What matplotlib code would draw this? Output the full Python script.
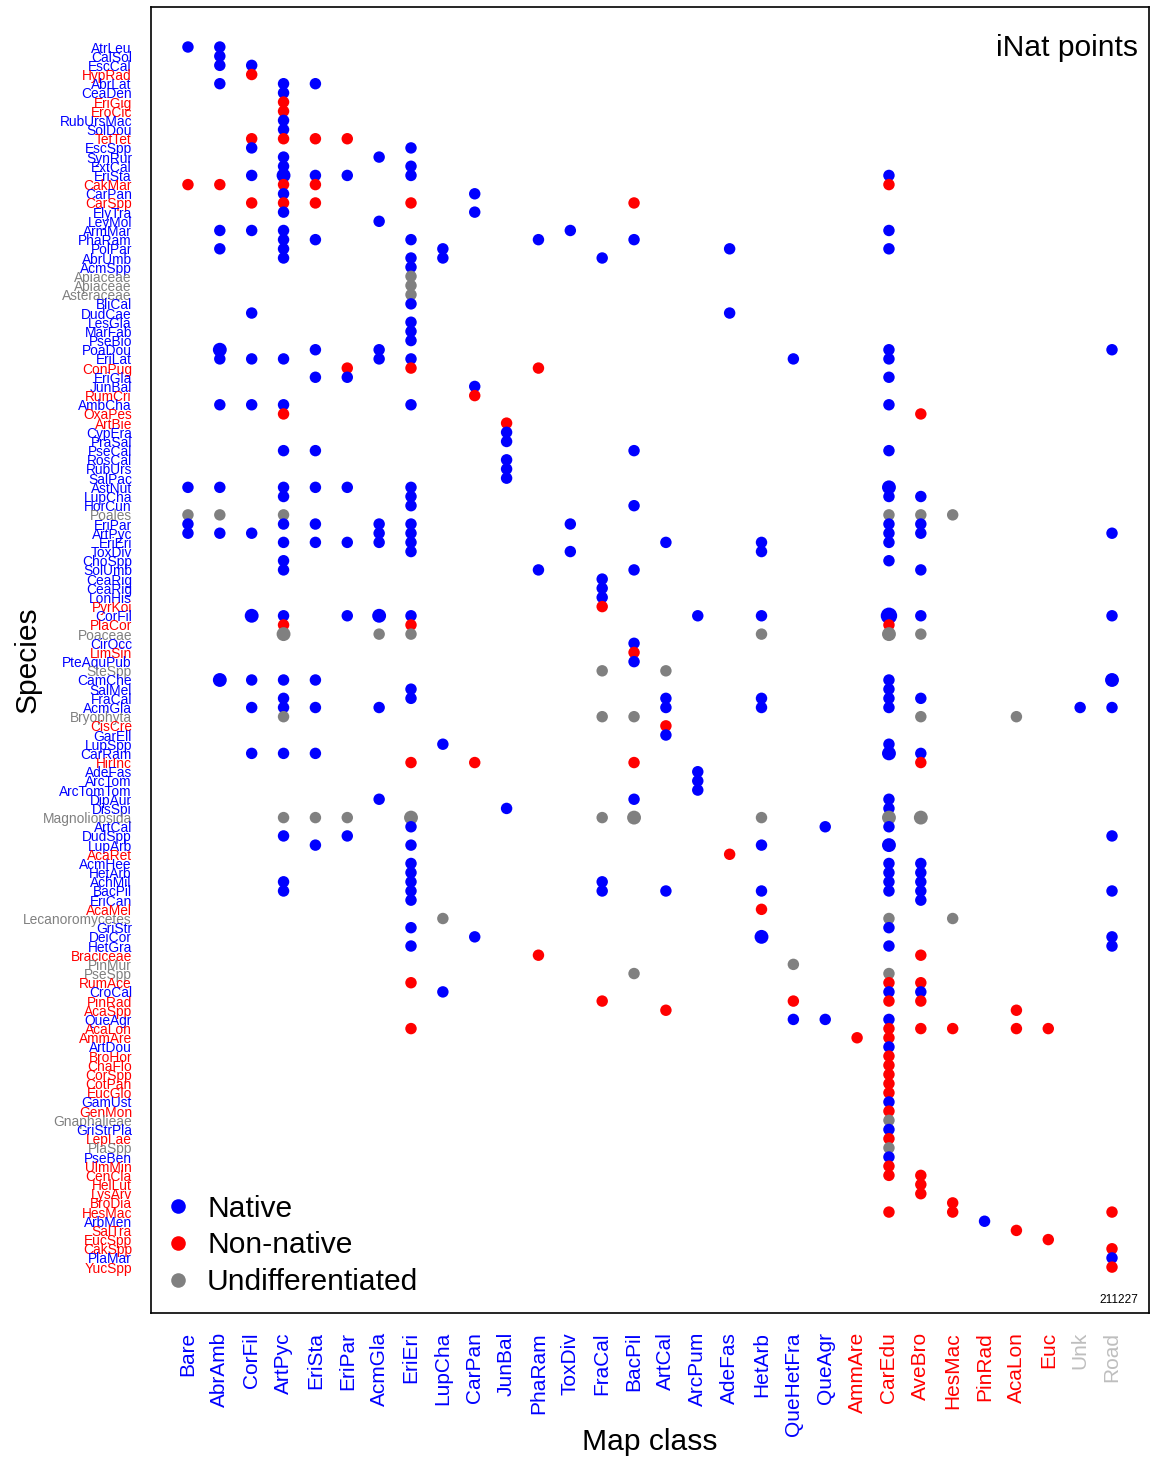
import numpy as np
import matplotlib.pyplot as plt
from matplotlib.lines import Line2D

plt.rcParams['font.family'] = ['Liberation Sans', 'DejaVu Sans']

# species on the y axis, top to bottom; N native, X non-native, U undifferentiated
species = ["AtrLeu", "CalSol", "EscCal", "HypRad", "AbrLat", "CeaDen", "EriGig", "EroCic",
           "RubUrsMac", "SolDou", "TetTet", "EscSpp", "SynRur", "ExtCal", "EriSta", "CakMar",
           "CarPan", "CarSpp", "ElyTra", "LeyMol", "ArmMar", "PhaRam", "PolPar", "AbrUmb",
           "AcmSpp", "Apiaceae", "Apiaceae_2", "Asteraceae", "BliCal", "DudCae", "LesGla",
           "MarFab", "PseBio", "PoaDou", "EriLat", "ConPug", "EriGla", "JunBal", "RumCri",
           "AmbCha", "OxaPes", "ArtBie", "CypEra", "PraSal", "PseCal", "RosCal", "RubUrs",
           "SalPac", "AstNut", "LupCha", "HorCun", "Poales", "EriPar", "ArtPyc", "EriEri",
           "ToxDiv", "ChoSpp", "SolUmb", "CeaRig", "CeaRig_2", "LonHis", "PyrKoi", "CorFil",
           "PlaCor", "Poaceae", "CirOcc", "LimSin", "PteAquPub", "SteSpp", "CamChe", "SalMel",
           "FraCal", "AcmGla", "Bryophyta", "CisCre", "GarEll", "LupSpp", "CarRam", "HirInc",
           "AdeFas", "ArcTom", "ArcTomTom", "DipAur", "DisSpi", "Magnoliopsida", "ArtCal",
           "DudSpp", "LupArb", "AcaRet", "AcmHee", "HetArb", "AchMil", "BacPil", "EriCan",
           "AcaMel", "Lecanoromycetes", "GriStr", "DeiCor", "HetGra", "Braciceae", "PinMur",
           "PseSpp", "RumAce", "CroCal", "PinRad", "AcaSpp", "QueAgr", "AcaLon", "AmmAre",
           "ArtDou", "BroHor", "ChaFlo", "CorSpp", "CotPan", "EucGlo", "GamUst", "GenMon",
           "Gnaphalieae", "GriStrPla", "LepLae", "PlaSpp", "PseBen", "UlmMin", "CenCla",
           "HelLut", "LysArv", "BroDia", "HesMac", "ArbMen", "SalTra", "EucSpp", "CakSpp",
           "PlaMar", "YucSpp"]
status = list("NNNXNNXXNNXNNNNXNXNNNNNNNUUUNNNNNNNXNNXNXXNNNNNNNNNUNNNNNNNNNXNXUNXNUNNNNUXNNNXNNNNNUNNNXNNNNNXUNNNXUUXNXXNXXNXXXXXNXUNXUNXXXXXXNXXXNX")

map_class = ["Bare", "AbrAmb", "CorFil", "ArtPyc", "EriSta", "EriPar", "AcmGla", "EriEri",
             "LupCha", "CarPan", "JunBal", "PhaRam", "ToxDiv", "FraCal", "BacPil", "ArtCal",
             "ArcPum", "AdeFas", "HetArb", "QueHetFra", "QueAgr", "AmmAre", "CarEdu", "AveBro",
             "HesMac", "PinRad", "AcaLon", "Euc", "Unk", "Road"]
class_status = list("NNNNNNNNNNNNNNNNNNNNNXXXXXXXUU")

points = {
    "Bare": ["AtrLeu", "CakMar", "AstNut", "Poales", "EriPar", "ArtPyc"],
    "AbrAmb": ["AtrLeu", "CalSol", "EscCal", "AbrLat", "CakMar", "ArmMar", "PolPar", "PoaDou",
               "EriLat", "AmbCha", "AstNut", "Poales", "ArtPyc", "CamChe"],
    "CorFil": ["EscCal", "HypRad", "TetTet", "EscSpp", "EriSta", "CarSpp", "ArmMar", "DudCae",
               "EriLat", "AmbCha", "ArtPyc", "CorFil", "CamChe", "AcmGla", "CarRam"],
    "ArtPyc": ["AbrLat", "CeaDen", "EriGig", "EroCic", "RubUrsMac", "SolDou", "TetTet", "SynRur",
               "ExtCal", "EriSta", "CakMar", "CarPan", "CarSpp", "ElyTra", "ArmMar", "PhaRam",
               "PolPar", "AbrUmb", "EriLat", "AmbCha", "OxaPes", "PseCal", "AstNut", "LupCha",
               "Poales", "EriPar", "EriEri", "ChoSpp", "SolUmb", "CorFil", "PlaCor", "Poaceae",
               "CamChe", "FraCal", "AcmGla", "Bryophyta", "CarRam", "Magnoliopsida", "DudSpp",
               "AchMil", "BacPil"],
    "EriSta": ["AbrLat", "TetTet", "EriSta", "CakMar", "CarSpp", "PhaRam", "PoaDou", "EriGla",
               "PseCal", "AstNut", "EriPar", "EriEri", "CamChe", "AcmGla", "CarRam",
               "Magnoliopsida", "LupArb"],
    "EriPar": ["TetTet", "EriSta", "ConPug", "EriGla", "AstNut", "EriEri", "CorFil",
               "Magnoliopsida", "DudSpp"],
    "AcmGla": ["SynRur", "LeyMol", "PoaDou", "EriLat", "EriPar", "ArtPyc", "EriEri", "CorFil",
               "Poaceae", "AcmGla", "DipAur"],
    "EriEri": ["EscSpp", "ExtCal", "EriSta", "CarSpp", "PhaRam", "AbrUmb", "AcmSpp", "Apiaceae",
               "Apiaceae_2", "Asteraceae", "BliCal", "LesGla", "MarFab", "PseBio", "EriLat",
               "ConPug", "AmbCha", "AstNut", "LupCha", "HorCun", "EriPar", "ArtPyc", "EriEri",
               "ToxDiv", "CorFil", "PlaCor", "Poaceae", "SalMel", "FraCal", "HirInc",
               "Magnoliopsida", "ArtCal", "LupArb", "AcmHee", "HetArb", "AchMil", "BacPil",
               "EriCan", "GriStr", "HetGra", "RumAce", "AcaLon"],
    "LupCha": ["PolPar", "AbrUmb", "LupSpp", "Lecanoromycetes", "CroCal"],
    "CarPan": ["CarPan", "ElyTra", "JunBal", "RumCri", "HirInc", "DeiCor"],
    "JunBal": ["ArtBie", "CypEra", "PraSal", "RosCal", "RubUrs", "SalPac", "DisSpi"],
    "PhaRam": ["PhaRam", "ConPug", "SolUmb", "Braciceae"],
    "ToxDiv": ["ArmMar", "EriPar", "ToxDiv"],
    "FraCal": ["AbrUmb", "CeaRig", "CeaRig_2", "LonHis", "PyrKoi", "SteSpp", "Bryophyta",
               "Magnoliopsida", "AchMil", "BacPil", "PinRad"],
    "BacPil": ["CarSpp", "PhaRam", "PseCal", "HorCun", "SolUmb", "CirOcc", "LimSin", "PteAquPub",
               "Bryophyta", "HirInc", "DipAur", "Magnoliopsida", "PseSpp"],
    "ArtCal": ["EriEri", "SteSpp", "FraCal", "AcmGla", "CisCre", "GarEll", "BacPil", "AcaSpp"],
    "ArcPum": ["CorFil", "AdeFas", "ArcTom", "ArcTomTom"],
    "AdeFas": ["PolPar", "DudCae", "AcaRet"],
    "HetArb": ["EriEri", "ToxDiv", "CorFil", "Poaceae", "FraCal", "AcmGla", "Magnoliopsida",
               "LupArb", "BacPil", "AcaMel", "DeiCor"],
    "QueHetFra": ["EriLat", "PinMur", "PinRad", "QueAgr"],
    "QueAgr": ["ArtCal", "QueAgr"],
    "AmmAre": ["AmmAre"],
    "CarEdu": ["EriSta", "CakMar", "ArmMar", "PolPar", "PoaDou", "EriLat", "EriGla", "AmbCha",
               "PseCal", "AstNut", "LupCha", "Poales", "EriPar", "ArtPyc", "EriEri", "ChoSpp",
               "CorFil", "PlaCor", "Poaceae", "CamChe", "SalMel", "FraCal", "AcmGla", "LupSpp",
               "CarRam", "DipAur", "DisSpi", "Magnoliopsida", "ArtCal", "LupArb", "AcmHee",
               "HetArb", "AchMil", "BacPil", "Lecanoromycetes", "GriStr", "HetGra", "PseSpp",
               "RumAce", "CroCal", "PinRad", "QueAgr", "AcaLon", "AmmAre", "ArtDou", "BroHor",
               "ChaFlo", "CorSpp", "CotPan", "EucGlo", "GamUst", "GenMon", "Gnaphalieae",
               "GriStrPla", "LepLae", "PlaSpp", "PseBen", "UlmMin", "CenCla", "HesMac"],
    "AveBro": ["OxaPes", "LupCha", "Poales", "EriPar", "ArtPyc", "SolUmb", "CorFil", "Poaceae",
               "FraCal", "Bryophyta", "CarRam", "HirInc", "Magnoliopsida", "AcmHee", "HetArb",
               "AchMil", "BacPil", "EriCan", "Braciceae", "RumAce", "CroCal", "PinRad", "AcaLon",
               "CenCla", "HelLut", "LysArv"],
    "HesMac": ["Poales", "Lecanoromycetes", "AcaLon", "BroDia", "HesMac"],
    "PinRad": ["ArbMen"],
    "AcaLon": ["Bryophyta", "AcaSpp", "AcaLon", "SalTra"],
    "Euc": ["AcaLon", "EucSpp"],
    "Unk": ["AcmGla"],
    "Road": ["PoaDou", "ArtPyc", "CorFil", "CamChe", "AcmGla", "DudSpp", "BacPil", "DeiCor",
             "HetGra", "HesMac", "CakSpp", "PlaMar", "YucSpp"],
}

# larger dots (more records)
big = {("AbrAmb", "PoaDou"): 2, ("AbrAmb", "CamChe"): 2, ("CorFil", "CorFil"): 2,
       ("ArtPyc", "EriSta"): 2, ("ArtPyc", "Poaceae"): 2,
       ("AcmGla", "CorFil"): 2, ("EriEri", "Magnoliopsida"): 2,
       ("BacPil", "Magnoliopsida"): 2, ("HetArb", "DeiCor"): 2, ("CarEdu", "AstNut"): 2,
       ("CarEdu", "CorFil"): 3, ("CarEdu", "Poaceae"): 2, ("CarEdu", "CarRam"): 2,
       ("CarEdu", "Magnoliopsida"): 2, ("CarEdu", "LupArb"): 2, ("AveBro", "Magnoliopsida"): 2,
       ("Road", "CamChe"): 2}

colour = {"N": "#0000FF", "X": "#FF0000", "U": "#808080"}
class_colour = {"N": "#0000FF", "X": "#FF0000", "U": "#BEBEBE"}
dot_size = {1: 68, 2: 100, 3: 140}

row = {s: i + 1 for i, s in enumerate(species)}
sp_status = dict(zip(species, status))

fig = plt.figure(figsize=(11.5, 14.6), dpi=100)
ax = fig.add_axes([0.1313, 0.1007, 0.8678, 0.8945])

for k, mc in enumerate(map_class):
    sp = points[mc]
    xs = np.full(len(sp), k + 1)
    ys = [row[s] for s in sp]
    cs = [colour[sp_status[s]] for s in sp]
    ss = [dot_size[big.get((mc, s), 1)] for s in sp]
    ax.scatter(xs, ys, s=ss, c=cs, edgecolors='none', zorder=3)

ax.set_xlim(1 - 1.16, len(map_class) + 1.16)
ax.set_ylim(len(species) + 5.0, 1 - 4.36)

ax.set_yticks(np.arange(1, len(species) + 1))
ax.set_yticklabels([s.split('_')[0] for s in species], fontsize=9.9)
for lab, st in zip(ax.get_yticklabels(), status):
    lab.set_color(colour[st])

ax.set_xticks(np.arange(1, len(map_class) + 1))
ax.set_xticklabels(map_class, rotation=90, fontsize=15)
for lab, st in zip(ax.get_xticklabels(), class_status):
    lab.set_color(class_colour[st])

ax.tick_params(axis='both', length=0, pad=13.7)
for sp in ax.spines.values():
    sp.set_linewidth(1.2)

ax.set_xlabel("Map class", fontsize=21.6)
ax.xaxis.set_label_coords(0.5, -0.088)
ax.set_ylabel("Species", fontsize=21.6)
ax.yaxis.set_label_coords(-0.110, 0.5)

ax.text(0.989, 0.979, "iNat points", transform=ax.transAxes, ha='right', va='top', fontsize=21.6)
ax.text(0.989, 0.01, "211227", transform=ax.transAxes, ha='right', va='center', fontsize=8.6)

handles = [Line2D([], [], ls='none', marker='o', markersize=10.5, markeredgewidth=0,
                  markerfacecolor=colour[k]) for k in "NXU"]
ax.legend(handles, ["Native", "Non-native", "Undifferentiated"], loc='lower left',
          bbox_to_anchor=(0.015, 0.013), frameon=False, fontsize=21.6, borderpad=0,
          borderaxespad=0, handlelength=0.8, handletextpad=0.57, labelspacing=0.29)

fig.savefig("out.png", dpi=100)
